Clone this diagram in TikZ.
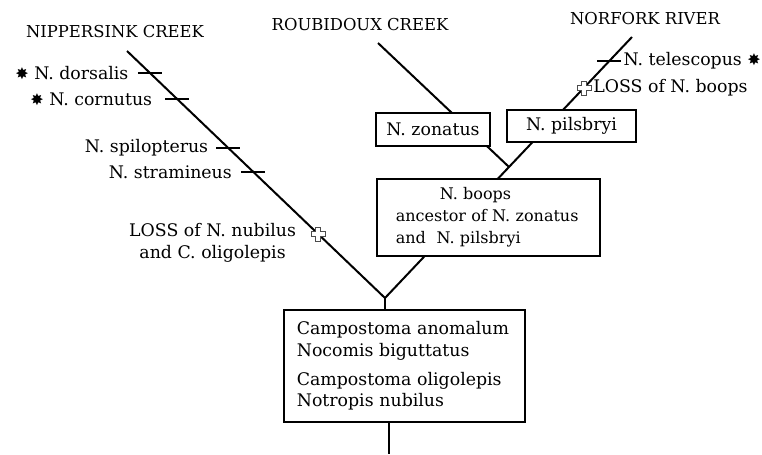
\documentclass[tikz,border=0pt]{standalone}
\usepackage{fontspec}
\setmainfont{DejaVu Serif}
\newfontfamily\dingfont{DejaVu Sans}
\usetikzlibrary{positioning}

% asterisk for the species marked in the key
\newcommand{\spec}{{\dingfont\fontsize{12}{12}\selectfont ✸}}

\tikzset{
  branch/.style={line width=1.5pt},
  taxon/.style={draw, line width=1.1pt, fill=white, inner sep=0pt,
    font=\fontsize{13}{16.5}\selectfont},
  lab/.style={inner sep=1pt, font=\fontsize{13}{16.5}\selectfont},
  creek/.style={inner sep=0pt, font=\fontsize{12.3}{15}\selectfont},
}

% short bar across a branch
\newcommand{\marktick}[1]{\draw[line width=1.5pt] (#1) ++(-12,0) -- ++(24,0);}
% hollow cross for a loss
\newcommand{\losscross}[1]{\draw[line width=0.5pt, draw=black!70, fill=white] (#1)
  ++(-2.5,-7) -- ++(5,0) -- ++(0,4.5) -- ++(4.5,0) -- ++(0,5) -- ++(-4.5,0)
  -- ++(0,4.5) -- ++(-5,0) -- ++(0,-4.5) -- ++(-4.5,0) -- ++(0,-5) -- ++(4.5,0) -- cycle;}

\begin{document}
\begin{tikzpicture}[x=0.75pt,y=-0.75pt]
\useasboundingbox (0,0) rectangle (762,454);

% stream ends and the root fork
\coordinate (nip) at (127,51);
\coordinate (rou) at (378,43);
\coordinate (nor) at (632,37);
\coordinate (root) at (385,298);
\coordinate (bot) at (389,454);

\path (nor) -- (root) coordinate[pos=.092] (tele) coordinate[pos=.195] (lossboops)
  coordinate[pos=.498] (fork);
\path (nip) -- (root) coordinate[pos=.089] (dors) coordinate[pos=.194] (corn)
  coordinate[pos=.393] (spil) coordinate[pos=.49] (stram) coordinate[pos=.741] (lossnub);

\draw[branch] (nip) -- (root);
\draw[branch] (nor) -- (root);
\draw[branch] (rou) -- (fork);

\node[creek] (nipname) at (115,32) {NIPPERSINK CREEK};
\node[creek] (rouname) at (360,25) {ROUBIDOUX CREEK};
\node[creek] (norname) at (645,19) {NORFORK RIVER};

% boxes go over the branches
\node[taxon, minimum width=85.5pt, minimum height=24.75pt] (zon) at (433,129.5) {N. zonatus};
\node[taxon, minimum width=96.75pt, minimum height=24pt] (pil) at (571.5,126) {N. pilsbryi};
\node[taxon, align=left, inner xsep=14pt, text width=139pt, minimum height=57.75pt,
  font=\fontsize{12}{16.5}\selectfont]
  (boops) at (488.5,217.5) {\hspace*{33pt}N. boops\\ancestor of N. zonatus\\and\ \ N. pilsbryi};
\node[taxon, align=left, inner xsep=9.75pt, text width=161.5pt, minimum height=84pt,
  font=\fontsize{13}{16}\selectfont] (camp) at (404.5,366)
  {Campostoma anomalum\\Nocomis biguttatus\\[6pt]Campostoma oligolepis\\Notropis nubilus};

\draw[branch] (root) -- (root |- camp.north);
\draw[branch] (bot |- camp.south) -- (bot);

% Nippersink branch
\marktick{dors}
\marktick{corn}
\marktick{spil}
\marktick{stram}
\losscross{lossnub}
\node[lab, left=15pt of dors] {\spec\ N. dorsalis};
\node[lab, left=17.5pt of corn] {\spec\ N. cornutus};
\node[lab, left=14pt of spil] {N. spilopterus};
\node[lab, left=15pt of stram] {N. stramineus};
\node[lab, align=center, left=15.5pt of lossnub, yshift=-6.75pt] {LOSS of N. nubilus\\and C. oligolepis};

% Norfork branch
\marktick{tele}
\losscross{lossboops}
\node[lab, right=9.5pt of tele] {N. telescopus \spec};
\node[lab, right=6pt of lossboops] {LOSS of N. boops};

\end{tikzpicture}
\end{document}
